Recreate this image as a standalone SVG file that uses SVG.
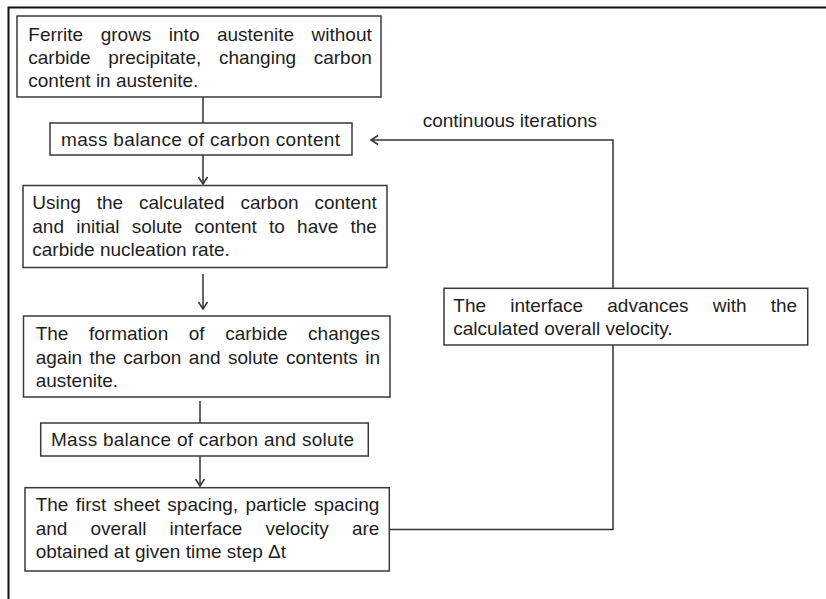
<svg xmlns="http://www.w3.org/2000/svg" width="826" height="599" viewBox="0 0 826 599">
<style>
  .box { fill: #ffffff; stroke: #3a3a3a; stroke-width: 1.5; }
  .t { font-family: "Liberation Sans", Arial, sans-serif; font-size: 19px; fill: #1e1e1e; }
  .c { fill: none; stroke: #333333; stroke-width: 1.5; }
  .frame { fill: none; stroke: #111111; stroke-width: 2; }
</style>
<defs>
  <marker id="arr" markerUnits="userSpaceOnUse" markerWidth="12" markerHeight="12" viewBox="-9 -6 12 12" refX="0" refY="0" orient="auto">
    <path d="M-7,-4.5 L0,0 L-7,4.5" fill="none" stroke="#333333" stroke-width="1.5"/>
  </marker>
</defs>
<rect width="826" height="599" fill="#ffffff"/>
<path class="frame" d="M8.5,599 V7.5 H826"/>

<g id="connectors">
  <path class="c" d="M203,97 V123"/>
  <path class="c" d="M203,155 V184" marker-end="url(#arr)"/>
  <path class="c" d="M203,274 V309" marker-end="url(#arr)"/>
  <path class="c" d="M200,401 V423"/>
  <path class="c" d="M200,456 V486" marker-end="url(#arr)"/>
  <path class="c" d="M389,529.5 H613 V345"/>
  <path class="c" d="M613,288 V140 H371" marker-end="url(#arr)"/>
  <text class="t" x="422.7" y="126.5">continuous iterations</text>
</g>

<g id="n1">
  <rect class="box" x="17" y="16" width="364" height="81"/>
  <text class="t" x="28.3" y="40.5" word-spacing="12.2">Ferrite grows into austenite without</text>
  <text class="t" x="28.3" y="63.5" word-spacing="12.4">carbide precipitate, changing carbon</text>
  <text class="t" x="28.3" y="86.5">content in austenite.</text>
</g>

<g id="n2">
  <rect class="box" x="50" y="123" width="302" height="32"/>
  <text class="t" x="61" y="146" textLength="279" lengthAdjust="spacing">mass balance of carbon content</text>
</g>

<g id="n3">
  <rect class="box" x="23" y="185.5" width="364" height="82"/>
  <text class="t" x="32.3" y="209" word-spacing="10.6">Using the calculated carbon content</text>
  <text class="t" x="32.3" y="233" word-spacing="6.9">and initial solute content to have the</text>
  <text class="t" x="32.3" y="256">carbide nucleation rate.</text>
</g>

<g id="n4">
  <rect class="box" x="23.5" y="316" width="366.5" height="81"/>
  <text class="t" x="35.7" y="339.5" word-spacing="15.3">The formation of carbide changes</text>
  <text class="t" x="35.7" y="363.5" word-spacing="2.1">again the carbon and solute contents in</text>
  <text class="t" x="35.7" y="387">austenite.</text>
</g>

<g id="n5">
  <rect class="box" x="40.7" y="423" width="327.6" height="33"/>
  <text class="t" x="51" y="446" textLength="303" lengthAdjust="spacing">Mass balance of carbon and solute</text>
</g>

<g id="n6">
  <rect class="box" x="25" y="487.7" width="364.3" height="83.3"/>
  <text class="t" x="35.7" y="511" word-spacing="2">The first sheet spacing, particle spacing</text>
  <text class="t" x="35.7" y="535" word-spacing="17.8">and overall interface velocity are</text>
  <text class="t" x="35.7" y="558">obtained at given time step Δt</text>
</g>

<g id="n7">
  <rect class="box" x="444" y="288.3" width="363.7" height="56.7"/>
  <text class="t" x="453.3" y="311.5" word-spacing="18.9">The interface advances with the</text>
  <text class="t" x="453.3" y="335">calculated overall velocity.</text>
</g>
</svg>
